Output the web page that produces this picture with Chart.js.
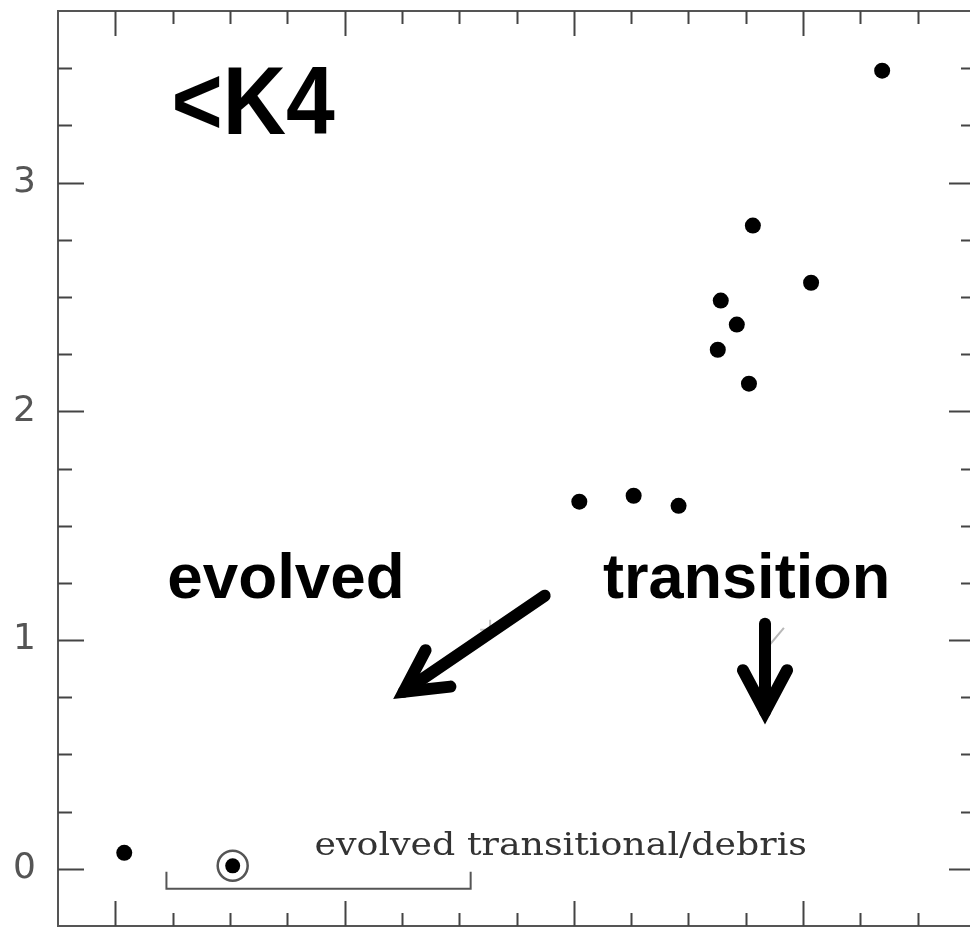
<!DOCTYPE html>
<html>
<head>
<meta charset="utf-8">
<script src="https://cdn.jsdelivr.net/npm/chart.js@4/dist/chart.umd.min.js"></script>
<style>
  html, body { margin: 0; padding: 0; background: #fff; overflow: hidden; }
  #wrap { width: 980px; height: 929px; position: relative; }
</style>
</head>
<body>
<div id="wrap"><canvas id="c"></canvas></div>
<script>
// ---- data ----
const diskX = [0.039, 2.024, 2.261, 2.457, 2.628, 2.641, 2.711, 2.764, 2.781, 3.035, 3.345];
const diskY = [0.070, 1.605, 1.631, 1.587, 2.269, 2.484, 2.379, 2.121, 2.812, 2.562, 3.489];
const circledX = [0.512];
const circledY = [0.013];
const faintX = [1.635];
const faintY = [1.045];
const limitX = [2.88];
const limitY = [1.01];
const bracketX = [0.223, 0.223, 1.550, 1.550];
const bracketY = [-0.013, -0.087, -0.087, -0.013];
const yTickLabels = [0, 1, 2, 3];
const xMajorTicks = [0, 1, 2, 3];
const yMajorTicks = [0, 1, 2, 3];
const axisMin = -0.25, axisMax = 3.75, minorStep = 0.25;

const pts = (xs, ys) => xs.map((x, i) => ({ x: x, y: ys[i] }));

// ---- annotations (data coordinates) ----
const texts = [
  { text: '<K4', x: 0.245, y: 3.214, font: 'bold 96px "Liberation Sans", Arial, sans-serif', width: 0.712, color: '#000' },
  { text: 'evolved', x: 0.227, y: 1.185, font: 'bold 63px "Liberation Sans", Arial, sans-serif', width: 1.035, color: '#000' },
  { text: 'transition', x: 2.127, y: 1.185, font: 'bold 63px "Liberation Sans", Arial, sans-serif', width: 1.253, color: '#000' },
  { text: 'evolved transitional/debris', x: 0.869, y: 0.061, font: '32px "DejaVu Serif", serif', width: 2.148, color: '#333' }
];
const arrows = [
  { x0: 1.873, y0: 1.194, x1: 1.258, y1: 0.774 },
  { x0: 2.834, y0: 1.071, x1: 2.834, y1: 0.687 }
];

function zeroPad(s) { s.paddingTop = 0; s.paddingBottom = 0; s.paddingLeft = 0; s.paddingRight = 0; }

const framePlugin = {
  id: 'frame',
  beforeDatasetsDraw(chart) {
    const { ctx, chartArea: a, scales } = chart;
    const xs = scales.x, ys = scales.y;
    ctx.save();
    ctx.strokeStyle = '#555';
    ctx.lineWidth = 2;
    ctx.strokeRect(a.left, a.top, a.right - a.left, a.bottom - a.top);
    ctx.strokeStyle = '#444';
    for (let v = axisMin + minorStep; v < axisMax - 1e-6; v += minorStep) {
      const isMajX = xMajorTicks.some(m => Math.abs(m - v) < 1e-6);
      const isMajY = yMajorTicks.some(m => Math.abs(m - v) < 1e-6);
      const lx = isMajX ? 25 : 13;
      const ly = isMajY ? 26 : 14;
      const px = Math.round(xs.getPixelForValue(v)) + 0.5;
      const py = Math.round(ys.getPixelForValue(v)) + 0.5;
      ctx.beginPath();
      ctx.moveTo(px, a.top); ctx.lineTo(px, a.top + lx);
      ctx.moveTo(px, a.bottom); ctx.lineTo(px, a.bottom - lx);
      ctx.moveTo(a.left, py); ctx.lineTo(a.left + ly, py);
      ctx.moveTo(a.right, py); ctx.lineTo(a.right - ly, py);
      ctx.stroke();
    }
    ctx.restore();
  },
  afterDatasetsDraw(chart) {
    const { ctx, scales } = chart;
    const xs = scales.x, ys = scales.y;
    ctx.save();
    texts.forEach(t => {
      ctx.font = t.font;
      ctx.fillStyle = t.color;
      ctx.textAlign = 'left';
      ctx.textBaseline = 'alphabetic';
      const px = xs.getPixelForValue(t.x), py = ys.getPixelForValue(t.y);
      const target = xs.getPixelForValue(t.x + t.width) - px;
      const w = ctx.measureText(t.text).width;
      ctx.save();
      ctx.translate(px, py);
      ctx.scale(target / w, 1);
      ctx.fillText(t.text, 0, 0);
      ctx.restore();
    });
    ctx.strokeStyle = '#000';
    ctx.lineWidth = 12;
    arrows.forEach(ar => {
      const x0 = xs.getPixelForValue(ar.x0), y0 = ys.getPixelForValue(ar.y0);
      const x1 = xs.getPixelForValue(ar.x1), y1 = ys.getPixelForValue(ar.y1);
      const ang = Math.atan2(y0 - y1, x0 - x1);
      const hl = 47, ha = 28 * Math.PI / 180;
      ctx.lineCap = 'round';
      ctx.beginPath();
      ctx.moveTo(x0, y0); ctx.lineTo(x1, y1);
      ctx.stroke();
      ctx.lineJoin = 'miter';
      ctx.miterLimit = 10;
      ctx.beginPath();
      ctx.moveTo(x1 + hl * Math.cos(ang + ha), y1 + hl * Math.sin(ang + ha));
      ctx.lineTo(x1, y1);
      ctx.lineTo(x1 + hl * Math.cos(ang - ha), y1 + hl * Math.sin(ang - ha));
      ctx.stroke();
    });
    ctx.restore();
  }
};

new Chart(document.getElementById('c'), {
  type: 'scatter',
  data: {
    datasets: [
      { label: 'faint', data: pts(faintX, faintY), pointStyle: 'cross', pointRadius: 10,
        borderColor: '#c4c4c4', borderWidth: 2, backgroundColor: '#c4c4c4' },
      { label: 'limit', data: pts(limitX, limitY), pointStyle: 'line', rotation: -50, pointRadius: 13,
        borderColor: '#b8b8b8', borderWidth: 2 },
      { label: 'bracket', type: 'line', data: pts(bracketX, bracketY), showLine: true, pointRadius: 0,
        borderColor: '#555', borderWidth: 2, fill: false, tension: 0 },
      { label: 'disks', data: pts(diskX, diskY), pointStyle: 'circle', pointRadius: 8,
        backgroundColor: '#000', borderColor: '#000', borderWidth: 0 },
      { label: 'circled', data: pts(circledX, circledY), pointStyle: 'circle', pointRadius: 7.5,
        backgroundColor: '#000', borderColor: '#000', borderWidth: 0 },
      { label: 'ring', data: pts(circledX, circledY), pointStyle: 'circle', pointRadius: 15,
        backgroundColor: 'rgba(0,0,0,0)', borderColor: '#555', borderWidth: 2.5 }
    ]
  },
  options: {
    responsive: true,
    maintainAspectRatio: false,
    animation: false,
    devicePixelRatio: 1,
    layout: { autoPadding: false, padding: { top: 11, right: 5, bottom: 3, left: 0 } },
    plugins: { legend: { display: false }, tooltip: { enabled: false } },
    scales: {
      x: {
        type: 'linear', min: axisMin, max: axisMax,
        grid: { display: false, drawTicks: false, tickLength: 0 },
        border: { display: false },
        ticks: { display: false },
        afterFit(s) { s.height = 0; zeroPad(s); }
      },
      y: {
        type: 'linear', min: axisMin, max: axisMax,
        grid: { display: false, drawTicks: false, tickLength: 0 },
        border: { display: false },
        afterBuildTicks(s) { s.ticks = yTickLabels.map(v => ({ value: v })); },
        ticks: {
          padding: 22,
          color: '#555',
          font: { family: '"DejaVu Sans", sans-serif', size: 36 },
          callback: v => String(v)
        },
        afterFit(s) { s.width = 58; zeroPad(s); }
      }
    }
  },
  plugins: [framePlugin]
});
</script>
</body>
</html>
